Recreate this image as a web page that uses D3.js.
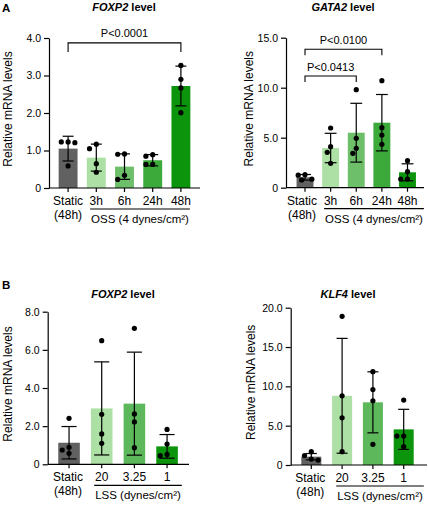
<!DOCTYPE html>
<html><head><meta charset="utf-8">
<script src="https://cdn.jsdelivr.net/npm/d3@7"></script>
<style>
body{margin:0;background:#fff}
svg{display:block;font-family:"Liberation Sans",Arial,Helvetica,sans-serif}
</style></head><body>
<svg id="c" width="428" height="507"></svg>
<script>
// ---------- Panel A left: FOXP2, OSS ----------
const a1Cats = ["Static","3h","6h","24h","48h"];
const a1Means = [1.05,0.81,0.57,0.74,2.72];
const a1Sd = [0.33,0.36,0.34,0.15,0.53];
const a1Points = [[1.23,1.23,1.21,0.59],[1.05,1.17,0.65,0.42],[0.91,0.90,0.34,0.23],[0.89,0.85,0.63,0.63],[3.27,2.90,2.67,2.01]];
const a1Ticks = [0,1,2,3,4];
const a1Brackets = [{from:"Static",to:"48h",level:3.87,label:"P<0.0001"}];

// ---------- Panel A right: GATA2, OSS ----------
const a2Cats = ["Static","3h","6h","24h","48h"];
const a2Means = [1.04,3.97,5.5,6.5,1.54];
const a2Sd = [0.28,1.47,2.94,2.82,0.85];
const a2Points = [[1.25,1.3,0.85,0.78],[5.97,4.1,3.54,2.44],[9.8,4.94,3.44,3.94],[10.7,6.0,5.27,4.34],[2.7,1.6,0.87,0.87]];
const a2Ticks = [0,5,10,15];
const a2Brackets = [{from:"Static",to:"6h",level:11.17,label:"P<0.0413"},{from:"Static",to:"24h",level:13.84,label:"P<0.0100"}];

// ---------- Panel B left: FOXP2, LSS ----------
const b1Cats = ["Static","20","3.25","1"];
const b1Means = [1.13,2.93,3.18,0.94];
const b1Sd = [0.85,2.44,2.7,0.62];
const b1Points = [[2.41,0.89,0.75,0.58],[6.48,2.62,1.59,1.1],[7.13,2.64,2.22,0.87],[1.83,1.06,0.45,0.52]];
const b1Ticks = [0,2,4,6,8];

// ---------- Panel B right: KLF4, LSS ----------
const b2Cats = ["Static","20","3.25","1"];
const b2Means = [1.06,8.8,7.97,4.53];
const b2Sd = [0.4,7.3,3.88,2.55];
const b2Points = [[1.7,1.2,0.75,0.62],[18.9,8.8,6.0,1.7],[11.86,9.6,8.17,2.63],[8.26,3.68,3.68,2.33]];
const b2Ticks = [0,5,10,15,20];

const ossColors = ["#616161","#ade0a4","#6dbf6a","#3ca93b","#0c950c"];
const lssColors = ["#616161","#ade0a4","#5db85b","#0c950c"];

const svg = d3.select("#c");
const fmt = v => v === 0 ? "0" : d3.format(".1f")(v);

// panel letters
svg.append("text").attr("x",2).attr("y",12).attr("font-size",11.5).attr("font-weight","bold").text("A");
svg.append("text").attr("x",2).attr("y",289).attr("font-size",11.5).attr("font-weight","bold").text("B");

function panel(o){
  const g = svg.append("g");
  const y = d3.scaleLinear().domain([0, o.ticks[o.ticks.length-1]]).range([o.yZero, o.yTop]);
  const x = d3.scaleBand().domain(o.cats).range(o.xr).paddingInner(o.pi).paddingOuter(o.pi/2);
  const bw = x.bandwidth();
  const cx = c => x(c) + bw/2;

  // title
  const t = g.append("text").attr("x",o.titleX).attr("y",o.titleY).attr("text-anchor","middle")
    .attr("font-size",11).attr("font-weight","bold");
  t.append("tspan").attr("font-style","italic").text(o.gene);
  t.append("tspan").text(" level");

  // y axis
  const ya = g.append("g").attr("transform",`translate(${o.ax},0)`)
    .call(d3.axisLeft(y).tickValues(o.ticks).tickSize(5).tickSizeOuter(0).tickPadding(3).tickFormat(fmt));
  ya.selectAll("path,line").attr("stroke","#000").attr("stroke-width",1.2);
  ya.selectAll("text").attr("font-size",10.5).attr("fill","#000").attr("font-family",null);
  ya.attr("font-family",null);

  // y label
  g.append("text").attr("transform",`translate(${o.ylx},${(o.yZero+o.yTop)/2 - 4}) rotate(-90)`)
    .attr("text-anchor","middle").attr("font-size",12).text("Relative mRNA levels");

  // bars
  g.selectAll("rect.bar").data(o.cats).join("rect")
    .attr("x", c => x(c)).attr("width", bw)
    .attr("y", (c,i) => y(o.means[i])).attr("height", (c,i) => o.yZero - y(o.means[i]))
    .attr("fill", (c,i) => o.colors[i]);

  // x axis line and ticks
  g.append("line").attr("x1",o.ax).attr("x2",o.axEnd).attr("y1",o.yZero).attr("y2",o.yZero)
    .attr("stroke","#000").attr("stroke-width",1.2);
  g.selectAll("line.xt").data(o.cats).join("line")
    .attr("x1",cx).attr("x2",cx).attr("y1",o.yZero).attr("y2",o.yZero+4)
    .attr("stroke","#000").attr("stroke-width",1.2);

  // error bars
  const cap = bw*o.capFrac/2;
  o.cats.forEach((c,i) => {
    const m = o.means[i], s = o.sd[i], xc = cx(c);
    const e = g.append("g").attr("stroke","#000").attr("stroke-width",1.2);
    e.append("line").attr("x1",xc).attr("x2",xc).attr("y1",y(m+s)).attr("y2",y(Math.max(0,m-s)));
    e.append("line").attr("x1",xc-cap).attr("x2",xc+cap).attr("y1",y(m+s)).attr("y2",y(m+s));
    e.append("line").attr("x1",xc-cap).attr("x2",xc+cap).attr("y1",y(Math.max(0,m-s))).attr("y2",y(Math.max(0,m-s)));
  });

  // points (simple beeswarm)
  const r = 2.6, step = 2*r+1.6, minD = 2*r+0.6;
  o.cats.forEach((c,i) => {
    const xc = cx(c);
    const placed = [];
    const pts = o.points[i].slice().sort((a,b)=>b-a);
    pts.forEach(v => {
      const py = y(v);
      const cands = [0,-step/2,step/2,-step,step,-1.5*step,1.5*step];
      let dx = 0;
      for (const cnd of cands){
        if (placed.every(p => Math.hypot(p.dx-cnd, p.py-py) >= minD)) { dx = cnd; break; }
      }
      placed.push({dx,py});
    });
    g.selectAll(null).data(placed).join("circle")
      .attr("cx", p => xc + p.dx).attr("cy", p => p.py).attr("r", r).attr("fill","#000");
  });

  // x labels
  const lab = g.append("g").attr("font-size",12).attr("text-anchor","middle");
  o.cats.forEach(c => {
    lab.append("text").attr("x",cx(c)+(c==="Static"?o.staticDx:0)).attr("y",o.yZero+17).text(c);
  });
  lab.append("text").attr("x",cx("Static")+o.staticDx).attr("y",o.yZero+31).text("(48h)");
  const gl = lab.append("text").attr("x",o.groupX).attr("y",o.yZero+35).attr("font-size",11.5).text(o.group);
  const w = gl.node().getComputedTextLength();
  g.append("line").attr("x1",o.groupX - w/2 - 1).attr("x2",o.groupX + w/2 + 1)
    .attr("y1",o.yZero+21).attr("y2",o.yZero+21).attr("stroke","#000").attr("stroke-width",1.2);

  // brackets
  (o.brackets||[]).forEach(b => {
    const x1 = cx(b.from), x2 = cx(b.to), yb = y(b.level);
    g.append("path").attr("d",`M${x1},${yb+o.leg}V${yb}H${x2}V${yb+o.leg}`)
      .attr("fill","none").attr("stroke","#000").attr("stroke-width",1.1);
    g.append("text").attr("x",(x1+x2)/2).attr("y",yb-5.5).attr("text-anchor","middle")
      .attr("font-size",11).text(b.label);
  });
}

panel({cats:a1Cats,means:a1Means,sd:a1Sd,points:a1Points,ticks:a1Ticks,brackets:a1Brackets,colors:ossColors,
  gene:"FOXP2",titleX:124,titleY:11,ax:49,axEnd:200,yZero:188,yTop:38,xr:[54,195],pi:0.33,capFrac:0.58,
  ylx:12,staticDx:0,groupX:140,group:"OSS (4 dynes/cm²)",leg:9});
panel({cats:a2Cats,means:a2Means,sd:a2Sd,points:a2Points,ticks:a2Ticks,brackets:a2Brackets,colors:ossColors,
  gene:"GATA2",titleX:343,titleY:11,ax:286,axEnd:424,yZero:187.7,yTop:37.7,xr:[292.2,420.3],pi:0.34,capFrac:0.7,
  ylx:253,staticDx:-3,groupX:374,group:"OSS (4 dynes/cm²)",leg:6});
panel({cats:b1Cats,means:b1Means,sd:b1Sd,points:b1Points,ticks:b1Ticks,colors:lssColors,
  gene:"FOXP2",titleX:123,titleY:298,ax:47.7,axEnd:189,yZero:464.3,yTop:311.7,xr:[52.7,183.4],pi:0.34,capFrac:0.7,
  ylx:12,staticDx:-1,groupX:138,group:"LSS (dynes/cm²)",leg:6});
panel({cats:b2Cats,means:b2Means,sd:b2Sd,points:b2Points,ticks:b2Ticks,colors:lssColors,
  gene:"KLF4",titleX:348,titleY:298,ax:290.7,axEnd:427,yZero:465,yTop:307.7,xr:[295.9,419.1],pi:0.35,capFrac:0.55,
  ylx:254.5,staticDx:-1,groupX:380,group:"LSS (dynes/cm²)",leg:6});
</script>
</body></html>
